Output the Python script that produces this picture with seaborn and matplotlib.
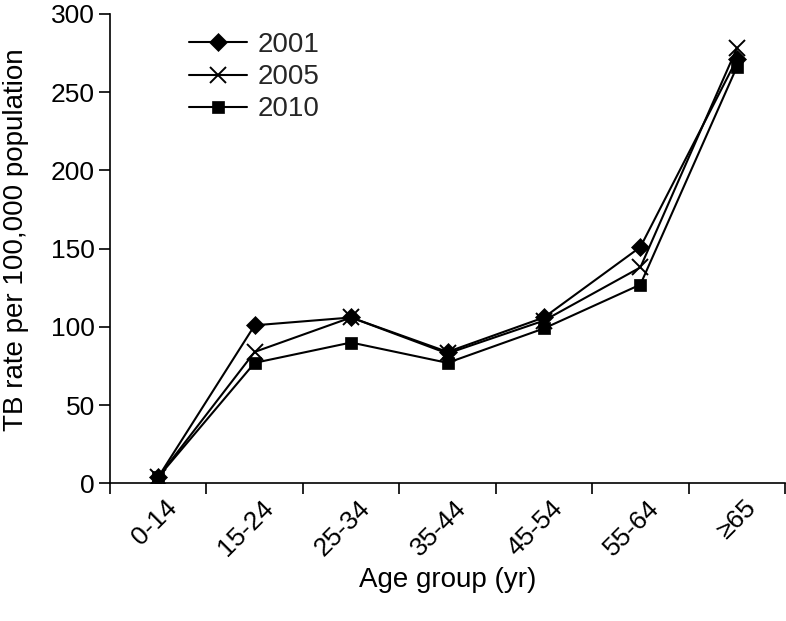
import numpy as np
import pandas as pd
import matplotlib
matplotlib.use("Agg")
import matplotlib.pyplot as plt
import matplotlib.transforms as mtransforms
import seaborn as sns
from matplotlib.ticker import FixedLocator

age_groups = ["0-14", "15-24", "25-34", "35-44", "45-54", "55-64", "\u226565"]
years = ["2001", "2005", "2010"]
rate_2001 = [4, 101, 106, 84, 106, 151, 271]
rate_2005 = [4, 84, 106, 83, 104, 138, 278]
rate_2010 = [4, 77, 90, 77, 99, 127, 266]
y_ticks = [0, 50, 100, 150, 200, 250, 300]

sns.set_theme(style="ticks")
plt.rcParams['font.family'] = ['Liberation Sans', 'DejaVu Sans']

rows = []
for yr, vals in zip(years, [rate_2001, rate_2005, rate_2010]):
    for i, v in enumerate(vals):
        rows.append({"pos": i, "rate": v, "year": yr})
df = pd.DataFrame(rows)

fig = plt.figure(figsize=(7.86, 6.21), dpi=100)
ax = fig.add_axes([0.140, 0.2217, 0.8587, 0.7558])

markers = {"2001": "D", "2005": "x", "2010": "s"}
sizes = {"2001": 9, "2005": 11, "2010": 8}
for yr in years:
    sub = df[df["year"] == yr]
    sns.lineplot(data=sub, x="pos", y="rate", ax=ax, color="black",
                 linewidth=1.5, marker=markers[yr], markersize=sizes[yr],
                 markeredgewidth=1.4 if yr == "2005" else 0.5,
                 markeredgecolor="black", markerfacecolor="black",
                 label=yr)

ax.set_xlim(-0.5, len(age_groups) - 0.5)
ax.set_ylim(0, 300)
ax.set_xticks(range(len(age_groups)))
ax.set_xticklabels(age_groups, rotation=45, ha="right", rotation_mode="anchor")
ax.xaxis.set_minor_locator(FixedLocator(np.arange(-0.5, len(age_groups), 1.0)))
ax.tick_params(axis="x", which="major", length=0, pad=9, labelsize=19, colors="black")
ax.tick_params(axis="x", which="minor", length=8, width=1.2, direction="out", color="black")
ax.set_yticks(y_ticks)
ax.tick_params(axis="y", length=8, width=1.2, direction="out", labelsize=19, colors="black", pad=3)

offset = mtransforms.ScaledTranslation(5 / 72, 0, fig.dpi_scale_trans)
for lbl in ax.get_xticklabels():
    lbl.set_transform(lbl.get_transform() + offset)

sns.despine(ax=ax, top=True, right=True)
ax.spines["left"].set_linewidth(1.2)
ax.spines["bottom"].set_linewidth(1.2)
ax.spines["left"].set_color("black")
ax.spines["bottom"].set_color("black")

ax.set_xlabel("Age group (yr)", fontsize=20, color="black", labelpad=5)
ax.set_ylabel("TB rate per 100,000 population", fontsize=20, color="black")
ax.yaxis.set_label_coords(-0.12, 0.52)
ax.grid(False)

leg = ax.legend(loc="upper left", bbox_to_anchor=(0.1, 0.985), frameon=False,
                fontsize=20, handlelength=2.1, handletextpad=0.4, labelspacing=0.22,
                borderaxespad=0.0)

fig.savefig("out.png", dpi=100, facecolor="white")
